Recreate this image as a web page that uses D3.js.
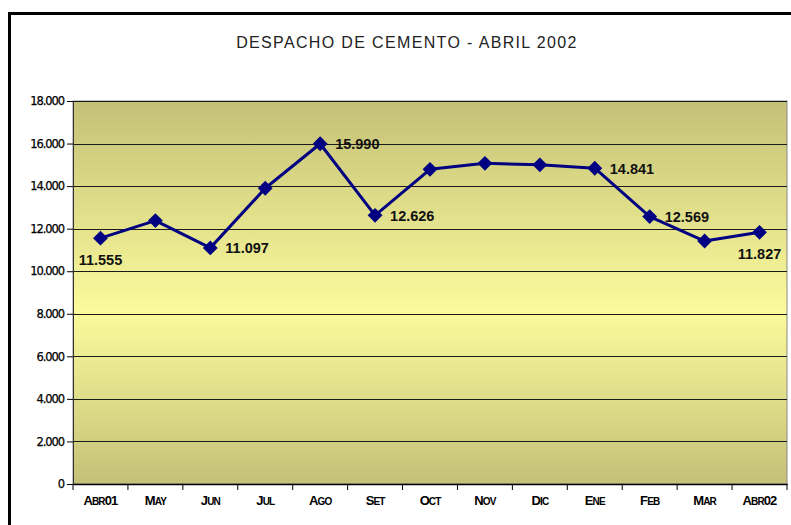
<!DOCTYPE html>
<html>
<head>
<meta charset="utf-8">
<script src="https://cdn.jsdelivr.net/npm/d3@7"></script>
<style>
  body { margin: 0; background: #fff; }
  svg { display: block; font-family: "Liberation Sans", Arial, sans-serif; }
</style>
</head>
<body>
<div id="chart"></div>
<script>
// despacho mensual de cemento
let months = ["Abr01", "May", "Jun", "Jul", "Ago", "Set", "Oct", "Nov", "Dic", "Ene", "Feb", "Mar", "Abr02"];
let values = [11555, 12380, 11097, 13900, 15990, 12626, 14790, 15070, 15000, 14841, 12569, 11420, 11827];
// etiquetas visibles: mes -> posicion
let labelled = { "Abr01": "below", "Jun": "right", "Ago": "right", "Set": "right", "Ene": "right", "Feb": "right", "Abr02": "below" };
let yTicks = [0, 2000, 4000, 6000, 8000, 10000, 12000, 14000, 16000, 18000];
let yTickLabels = ["0", "2.000", "4.000", "6.000", "8.000", "10.000", "12.000", "14.000", "16.000", "18.000"];

function lineChart(selector) {
    let width = 791;
    let height = 525;
    let margin = ({ top: 101, right: 4, bottom: 41, left: 73 });

    let x = d3.scaleBand()
        .domain(months)
        .range([margin.left, width - margin.right]);

    let y = d3.scaleLinear()
        .domain([0, 18000])
        .range([height - margin.bottom, margin.top]);

    let svg = d3.select(selector)
        .append("svg")
        .attr("width", width)
        .attr("height", height);

    // marco exterior
    svg.append("rect")
        .attr("x", 9.5).attr("y", 13.5)
        .attr("width", width + 10).attr("height", height + 10)
        .attr("fill", "white")
        .attr("stroke", "black")
        .attr("stroke-width", 3);

    svg.append("text")
        .attr("x", 407)
        .attr("y", 48)
        .attr("text-anchor", "middle")
        .attr("font-size", 16)
        .attr("letter-spacing", 1.35)
        .attr("fill", "#222")
        .text("DESPACHO DE CEMENTO - ABRIL 2002");

    let grad = svg.append("defs").append("linearGradient")
        .attr("id", "bg")
        .attr("x1", 0).attr("y1", 0).attr("x2", 0).attr("y2", 1);
    grad.append("stop").attr("offset", "0%").attr("stop-color", "#c4c077");
    grad.append("stop").attr("offset", "55%").attr("stop-color", "#fbfb9c");
    grad.append("stop").attr("offset", "100%").attr("stop-color", "#c4c077");

    svg.append("rect")
        .attr("x", margin.left)
        .attr("y", margin.top)
        .attr("width", width - margin.right - margin.left)
        .attr("height", height - margin.bottom - margin.top)
        .attr("fill", "url(#bg)")
        .attr("stroke", "#8a8a8a");

    // lineas de division
    svg.append("g")
        .selectAll("line")
        .data(yTicks.slice(1))
        .join("line")
        .attr("x1", margin.left)
        .attr("x2", width - margin.right)
        .attr("y1", d => Math.round(y(d)) + 0.5)
        .attr("y2", d => Math.round(y(d)) + 0.5)
        .attr("stroke", "#1a1a1a")
        .attr("stroke-width", 1.2);

    let yAxis = g => g
        .attr("transform", `translate(${margin.left},0)`)
        .call(d3.axisLeft(y)
            .tickValues(yTicks)
            .tickSize(6)
            .tickPadding(3)
            .tickFormat((d, i) => yTickLabels[i]))
        .call(g => g.select(".domain").attr("stroke", "#333"))
        .call(g => g.selectAll(".tick text")
            .attr("fill", "black")
            .attr("font-family", "DejaVu Sans")
            .attr("font-size", 11.5)
            .attr("stroke", "black")
            .attr("stroke-width", 0.25)
            .attr("letter-spacing", -1.1));

    // versalitas a mano: minusculas en mayuscula pequena
    function smallCaps(text) {
        text.each(function (d) {
            let t = d3.select(this).text(null);
            for (let ch of d) {
                let lower = ch !== ch.toUpperCase();
                t.append("tspan")
                    .attr("font-size", lower ? 10 : 13)
                    .text(ch.toUpperCase());
            }
        });
    }

    let xAxis = g => g
        .attr("transform", `translate(0,${height - margin.bottom})`)
        .call(d3.axisBottom(x).tickSize(0).tickPadding(14))
        .call(g => g.select(".domain").attr("stroke", "black").attr("stroke-width", 1.5))
        .call(g => g.selectAll(".tick text")
            .attr("fill", "black")
            .attr("font-weight", "bold")
            .attr("letter-spacing", -0.9)
            .call(smallCaps));

    svg.append("g").call(yAxis).attr("font-family", null);
    svg.append("g").call(xAxis).attr("font-family", null);

    // marcas entre categorias
    svg.append("g")
        .selectAll("line")
        .data(months.concat(["end"]))
        .join("line")
        .attr("x1", (d, i) => x(months[0]) + i * x.step())
        .attr("x2", (d, i) => x(months[0]) + i * x.step())
        .attr("y1", height - margin.bottom)
        .attr("y2", height - margin.bottom + 6)
        .attr("stroke", "black");

    let line = d3.line()
        .x((d, i) => x(months[i]) + x.bandwidth() / 2)
        .y(d => y(d));

    svg.append("path")
        .datum(values)
        .attr("fill", "none")
        .attr("stroke", "#000080")
        .attr("stroke-width", 3)
        .attr("stroke-linejoin", "round")
        .attr("d", line);

    svg.append("g")
        .attr("fill", "#000080")
        .selectAll("path")
        .data(values)
        .join("path")
        .attr("d", d3.symbol(d3.symbolSquare, 110))
        .attr("transform", (d, i) => `translate(${x(months[i]) + x.bandwidth() / 2},${y(d)}) rotate(45)`);

    svg.append("g")
        .attr("font-size", 14.5)
        .attr("font-weight", "bold")
        .attr("fill", "#111")
        .selectAll("text")
        .data(months.filter(m => labelled[m]))
        .join("text")
        .attr("x", m => x(m) + x.bandwidth() / 2 + (labelled[m] === "right" ? 15 : 0))
        .attr("y", m => y(values[months.indexOf(m)]) + (labelled[m] === "right" ? 5.5 : 27))
        .attr("text-anchor", m => labelled[m] === "right" ? "start" : "middle")
        .text(m => d3.format(",")(values[months.indexOf(m)]).replace(",", "."));

    return svg.node();
}

lineChart("#chart");
</script>
</body>
</html>
